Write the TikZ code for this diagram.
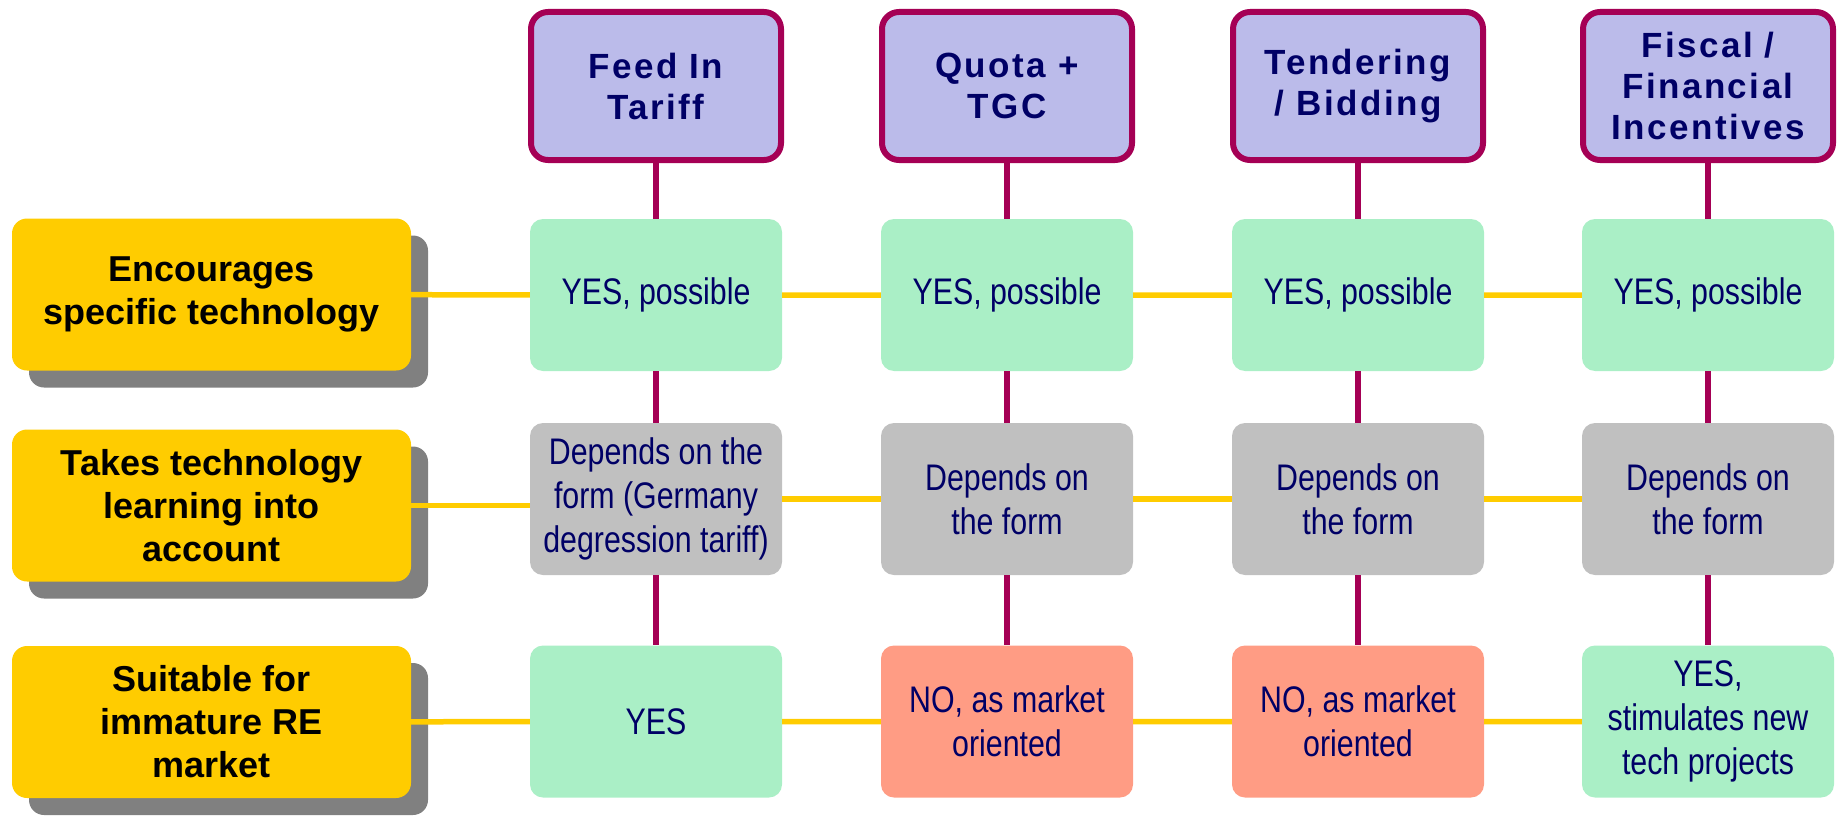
\documentclass[tikz,border=0pt]{standalone}
\usepackage{fontspec}
\setmainfont{Liberation Sans}
\newfontfamily\narrowsans[FakeStretch=0.82]{Liberation Sans}
\newfontfamily\headsans[LetterSpace=7]{Liberation Sans}
\usetikzlibrary{shadows}

\definecolor{headfill}{RGB}{187,187,234}
\definecolor{plum}{RGB}{165,0,85}
\definecolor{navy}{RGB}{0,0,102}
\definecolor{yesfill}{RGB}{170,239,198}
\definecolor{depfill}{RGB}{192,192,192}
\definecolor{nofill}{RGB}{255,156,132}
\definecolor{critfill}{RGB}{255,204,0}
\definecolor{shadegrey}{RGB}{128,128,128}

\begin{document}
\begin{tikzpicture}[x=1pt,y=1pt,yscale=-1,
  head/.style={draw=plum,line width=6pt,fill=headfill,rounded corners=17pt,
    minimum width=250pt,minimum height=148pt,inner sep=0pt,align=center,text=navy,
    font=\headsans\bfseries\fontsize{35}{41}\selectfont},
  cell/.style={rounded corners=13pt,minimum width=252pt,minimum height=152pt,
    inner sep=0pt,align=center,text=navy,font=\narrowsans\fontsize{37}{44}\selectfont},
  yes/.style={cell,fill=yesfill},
  dep/.style={cell,fill=depfill},
  no/.style={cell,fill=nofill},
  crit/.style={fill=critfill,rounded corners=15pt,minimum width=399pt,minimum height=152pt,
    inner sep=0pt,align=center,text=black,font=\bfseries\fontsize{36}{43}\selectfont,
    drop shadow={shadow xshift=17pt,shadow yshift=-17pt,fill=shadegrey,opacity=1}},
  vlink/.style={draw=plum,line width=5.5pt},
  hlink/.style={draw=critfill,line width=5.5pt}]
\useasboundingbox (0,0) rectangle (1846,816);

%Headers
\node[head] (fit) at (656,86) {Feed In\\Tariff};
\node[head] (quota) at (1007,86) {Quota +\\TGC};
\node[head] (tender) at (1358,86) {Tendering\\/ Bidding};
\node[head] (fiscal) at (1708,86) {Fiscal /\\Financial\\Incentives};

%Criteria
\node[crit] (spec) at (211.5,294.5) {Encourages\\specific technology};
\node[crit] (learn) at (211.5,505.5) {Takes technology\\learning into\\account};
\node[crit] (immat) at (211.5,722) {Suitable for\\immature RE\\market};

%Row: specific technology
\node[yes] (fitspec) at (656,295) {YES, possible};
\node[yes] (quotaspec) at (1007,295) {YES, possible};
\node[yes] (tenderspec) at (1358,295) {YES, possible};
\node[yes] (fiscalspec) at (1708,295) {YES, possible};

%Row: technology learning
\node[dep] (fitlearn) at (656,499) {Depends on the\\form (Germany\\degression tariff)};
\node[dep] (quotalearn) at (1007,499) {Depends on\\the form};
\node[dep] (tenderlearn) at (1358,499) {Depends on\\the form};
\node[dep] (fiscallearn) at (1708,499) {Depends on\\the form};

%Row: immature market
\node[yes] (fitimmat) at (656,721.5) {YES};
\node[no] (quotaimmat) at (1007,721.5) {NO, as market\\oriented};
\node[no] (tenderimmat) at (1358,721.5) {NO, as market\\oriented};
\node[yes] (fiscalimmat) at (1708,721.5) {YES,\\stimulates new\\tech projects};

%Vertical links
\draw[vlink] (fit) -- (fitspec) (fitspec) -- (fitlearn) (fitlearn) -- (fitimmat);
\draw[vlink] (quota) -- (quotaspec) (quotaspec) -- (quotalearn) (quotalearn) -- (quotaimmat);
\draw[vlink] (tender) -- (tenderspec) (tenderspec) -- (tenderlearn) (tenderlearn) -- (tenderimmat);
\draw[vlink] (fiscal) -- (fiscalspec) (fiscalspec) -- (fiscallearn) (fiscallearn) -- (fiscalimmat);

%Horizontal links
\draw[hlink] (spec) -- (fitspec) (fitspec) -- (quotaspec) (quotaspec) -- (tenderspec) (tenderspec) -- (fiscalspec);
\draw[hlink] (learn.east) -- (learn.east -| fitlearn.west) (fitlearn) -- (quotalearn) (quotalearn) -- (tenderlearn) (tenderlearn) -- (fiscallearn);
\draw[hlink] (immat) -- (fitimmat) (fitimmat) -- (quotaimmat) (quotaimmat) -- (tenderimmat) (tenderimmat) -- (fiscalimmat);

\end{tikzpicture}
\end{document}
